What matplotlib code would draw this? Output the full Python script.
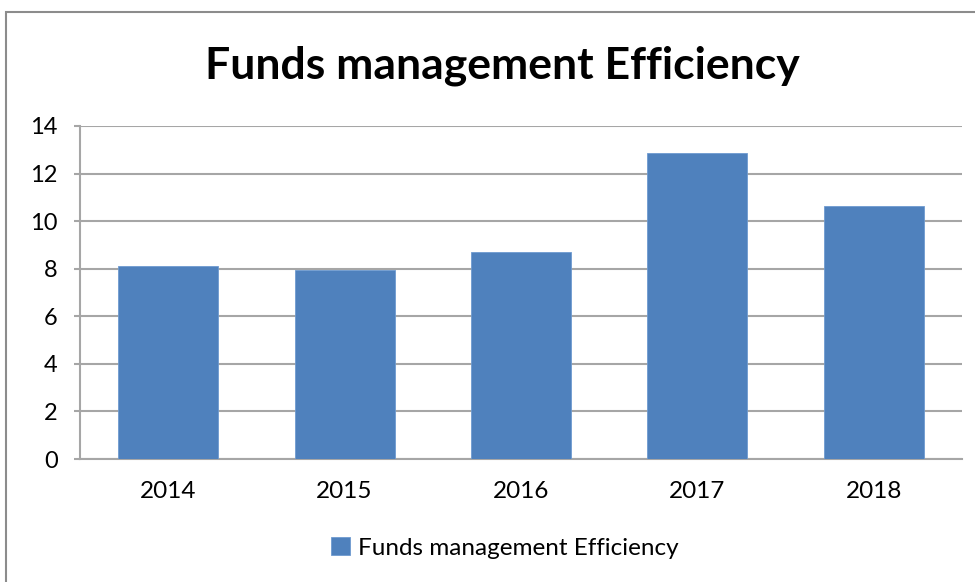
import matplotlib.pyplot as plt
from matplotlib.patches import Rectangle

years = ['2014', '2015', '2016', '2017', '2018']
efficiency = [8.13, 7.94, 8.71, 12.85, 10.65]
series_name = 'Funds management Efficiency'

W, H = 975, 582
fig = plt.figure(figsize=(W / 100, H / 100), dpi=100)
plt.rcParams['font.family'] = ['Lato', 'DejaVu Sans']

# outer chart border (cut off at right and bottom like the screenshot)
fig.patches.append(Rectangle((6 / W, -0.1), 1.2, 1.1 - 12 / H,
                             transform=fig.transFigure, fill=False,
                             edgecolor='#8c8c8c', linewidth=1.5))

ax = fig.add_axes([80 / W, 1 - 459 / H, (962 - 80) / W, (459 - 126) / H])
x = range(len(years))
ax.bar(x, efficiency, width=0.567, color='#4F81BD', edgecolor='#6f9bd0',
       linewidth=0.6, zorder=3, label=series_name)

ax.set_xlim(-0.5, len(years) - 0.5)
ax.set_ylim(0, 14)
ax.set_yticks(range(0, 15, 2))
ax.set_xticks(list(x))
ax.set_xticklabels(years)
ax.yaxis.grid(True, color='#a6a6a6', linewidth=1.5, zorder=0)
for s in ['top', 'right']:
    ax.spines[s].set_visible(False)
for s in ['left', 'bottom']:
    ax.spines[s].set_color('#a6a6a6')
    ax.spines[s].set_linewidth(1.5)
ax.tick_params(axis='y', length=4, color='#a6a6a6', width=1.5, labelsize=17, pad=12)
ax.tick_params(axis='x', length=0, labelsize=17.5, pad=16)

fig.text(502 / W, 1 - 66 / H, 'Funds management Efficiency', ha='center', va='center',
         fontsize=32, fontweight='bold')

fig.legend(loc='center', bbox_to_anchor=(505 / W, 1 - 548 / H), frameon=False,
           fontsize=17.5, handlelength=0.75, handleheight=0.75, handletextpad=0.35)

fig.savefig('out.png', dpi=100)
